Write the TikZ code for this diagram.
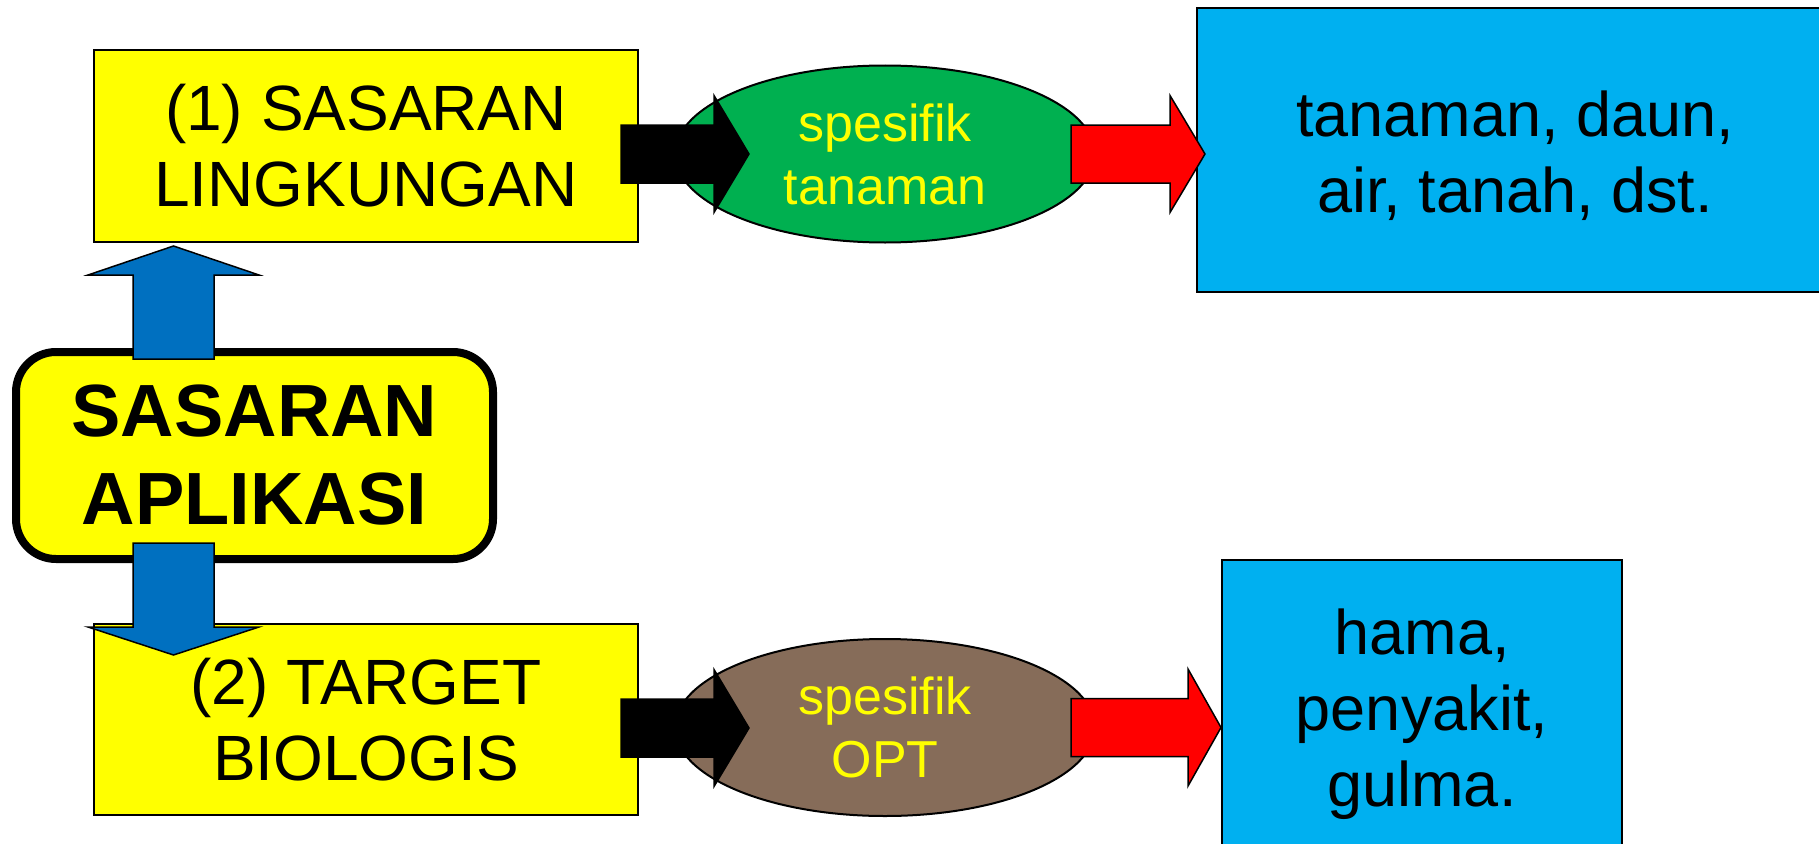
\documentclass[tikz,border=0pt]{standalone}
\usepackage{fontspec}
\setmainfont{Liberation Sans}
\usetikzlibrary{calc,shapes.geometric}
\definecolor{kuning}{HTML}{FFFF00}
\definecolor{hijau}{HTML}{00B050}
\definecolor{coklat}{HTML}{866C59}
\definecolor{birumuda}{HTML}{00B0F0}
\definecolor{biru}{HTML}{0070C0}
\definecolor{merah}{HTML}{FF0000}

\begin{document}
\begin{tikzpicture}[x=1pt, y=-1pt,
  kotak/.style={draw=black, line width=2pt, inner sep=0pt, outer sep=0pt, align=center},
  lonjong/.style={ellipse, draw=black, line width=2pt, inner sep=0pt, outer sep=0pt, align=center, text=kuning, minimum width=420pt, minimum height=177pt, font=\fontsize{52}{63}\selectfont},
  harrow/.style={to path={let \p1=(\tikztostart), \p2=(\tikztotarget) in
    ($(\p1)+(0,-29)$) -- ($(\x2,\y1)+(-#1,-29)$) -- ($(\x2,\y1)+(-#1,-58.5)$) -- (\x2,\y1)
    -- ($(\x2,\y1)+(-#1,58.5)$) -- ($(\x2,\y1)+(-#1,29)$) -- ($(\p1)+(0,29)$) -- cycle}},
  varrow/.style={to path={let \p1=(\tikztostart), \p2=(\tikztotarget) in
    ($(\p1)+(-40.5,0)$) -- ($(\x1,\y2)+(-40.5,#1)$) -- ($(\x1,\y2)+(-85.5,#1)$) -- (\x1,\y2)
    -- ($(\x1,\y2)+(85.5,#1)$) -- ($(\x1,\y2)+(40.5,#1)$) -- ($(\p1)+(40.5,0)$) -- cycle}},
  panah/.style={draw=black, line width=1.5pt, line join=miter}]
\useasboundingbox (0,0) rectangle (1819,843);

\node[kotak, fill=kuning, minimum width=544pt, minimum height=192pt, font=\fontsize{64}{76}\selectfont] (lingkungan) at (366,146) {(1) SASARAN\\LINGKUNGAN};
\node[kotak, fill=kuning, minimum width=544pt, minimum height=191pt, font=\fontsize{64}{76}\selectfont] (biologis) at (366,719.5) {(2) TARGET\\BIOLOGIS};
\node[kotak, fill=kuning, line width=8pt, rounded corners=40pt, minimum width=477pt, minimum height=207pt, font=\bfseries\fontsize{74}{88}\selectfont] (aplikasi) at (254.5,455.5) {SASARAN\\APLIKASI};
\node[lonjong, fill=hijau] (spestanaman) at (885,154) {spesifik\\tanaman};
\node[lonjong, fill=coklat] (spesopt) at (885,727.5) {spesifik\\OPT};
\node[kotak, fill=birumuda, minimum width=636pt, minimum height=284pt, font=\fontsize{63}{76}\selectfont] (contohtanaman) at (1515,150) {\rule{0pt}{58pt}tanaman, daun,\\air, tanah, dst.};
\node[kotak, fill=birumuda, minimum width=400pt, minimum height=308pt, font=\fontsize{63}{76}\selectfont] (contohopt) at (1422,714) {hama,\\penyakit,\\gulma.};

\draw[panah, fill=black] ($(lingkungan.east)+(-17,8)$) to[harrow=35] ($(spestanaman.west)+(74,0)$);
\draw[panah, fill=black] ($(biologis.east)+(-17,8.5)$) to[harrow=35] ($(spesopt.west)+(74,0)$);
\draw[panah, fill=merah] ($(spestanaman.east)+(-24,0)$) to[harrow=35] ($(contohtanaman.west)+(8,0)$);
\draw[panah, fill=merah] ($(spesopt.east)+(-24,0)$) to[harrow=33] ($(contohopt.west)+(-1,0)$);
\draw[panah, fill=biru] ($(aplikasi.north)+(-81,7)$) to[varrow=29] ($(lingkungan.south)+(0,4)$);
\draw[panah, fill=biru] ($(aplikasi.south)+(-81,-16)$) to[varrow=-28] ($(biologis.north)+(0,31)$);
\end{tikzpicture}
\end{document}
